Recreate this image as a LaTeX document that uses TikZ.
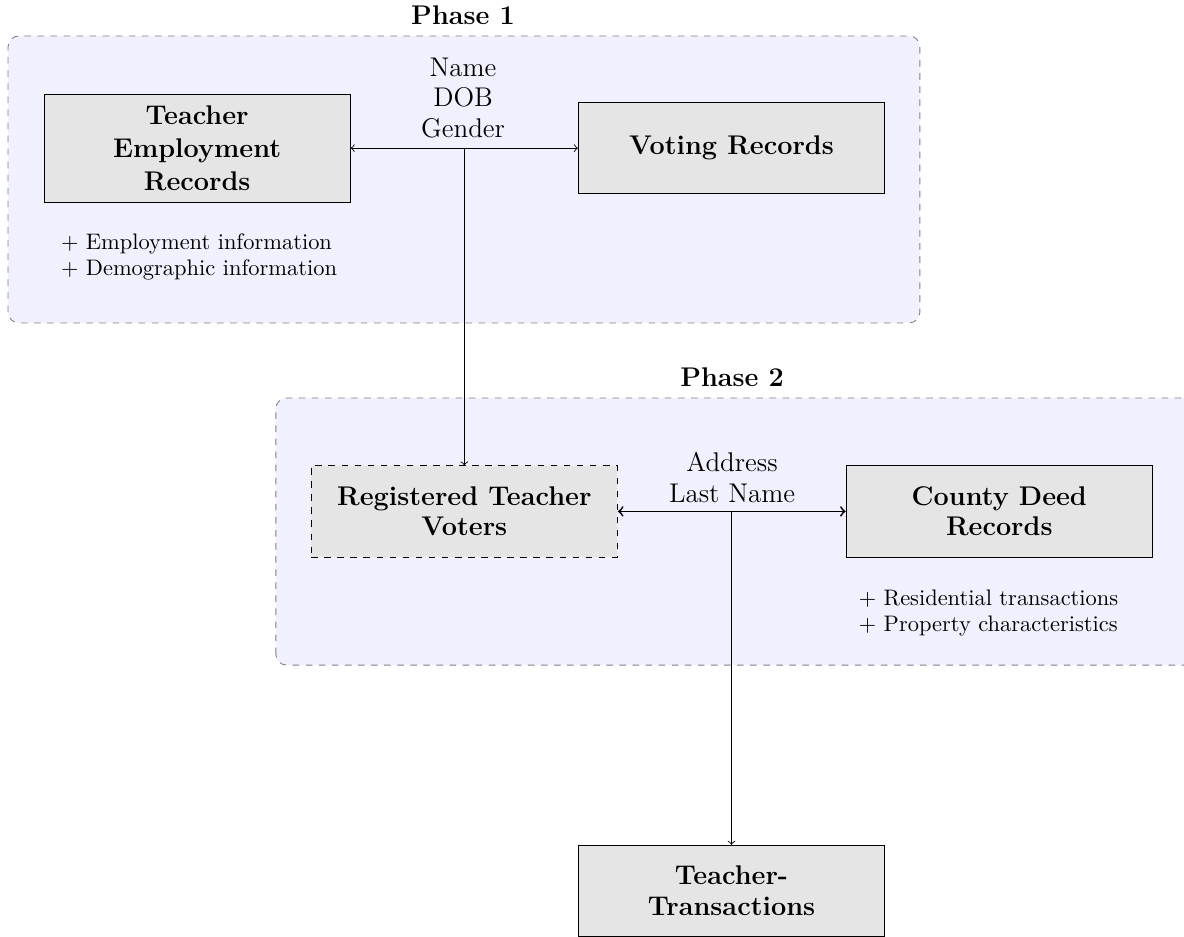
\documentclass[tikz,border=0pt]{standalone}
\usepackage{amsmath}
\usetikzlibrary{positioning}

\tikzset{
    phase/.style = {draw=gray, dashed, fill=blue!6, rounded corners=5pt},
    recbox/.style = {draw, fill=black!10, minimum width=4.94cm, align=center, minimum height=1.47cm, font=\fontsize{12.4}{14}\selectfont\bfseries},
    linklab/.style = {align=center, font=\fontsize{12.4}{14}\selectfont},
    notes/.style = {align=left, anchor=west, font=\fontsize{10.3}{12}\selectfont}
}

\begin{document}
\begin{tikzpicture}

            %\draw [help lines] (0,0) grid (19,15);
            \useasboundingbox (0,0) rectangle (19.1,15.1);

            % phase backgrounds
            \path[phase] (0.13,9.89) rectangle (14.84,14.52);
            \path[phase] (4.45,4.37) rectangle (19.3,8.68);

            \path   (7.47,14.86) node (p1) [font=\fontsize{12.4}{14}\selectfont\bfseries] {Phase 1}
                    (11.81,9.02) node (p2) [font=\fontsize{12.4}{14}\selectfont\bfseries] {Phase 2}
                    (3.18,12.71) node (emp) [recbox, minimum height=1.74cm] {Teacher\\[1.3pt]Employment\\[1.3pt]Records}
                    (11.80,12.72) node (vote) [recbox] {Voting Records}
                    (7.47,13.52) node (key1) [linklab] {Name\\DOB\\Gender}
                    (0.86,10.95) node (note1) [notes] {+ Employment information\\+ Demographic information}
                    (7.49,6.85) node (reg) [recbox, dashed] {Registered Teacher\\Voters}
                    (16.12,6.85) node (deed) [recbox] {County Deed\\Records}
                    (11.81,7.40) node (key2) [linklab] {Address\\Last Name}
                    (13.73,5.21) node (note2) [notes] {+ Residential transactions\\+ Property characteristics}
                    (11.80,0.73) node (trans) [recbox] {Teacher-\\Transactions};

            \coordinate (j1) at (reg.north |- emp.east);
            \coordinate (j2) at (trans.north |- reg.east);

            \draw[<->] (emp.east) -- (emp.east -| vote.west);
            \draw[->] (j1) -- (reg.north);
            \draw[thick,<->] (reg.east) -- (deed.west);
            \draw[->] (j2) -- (trans.north);
        \end{tikzpicture}
\end{document}
